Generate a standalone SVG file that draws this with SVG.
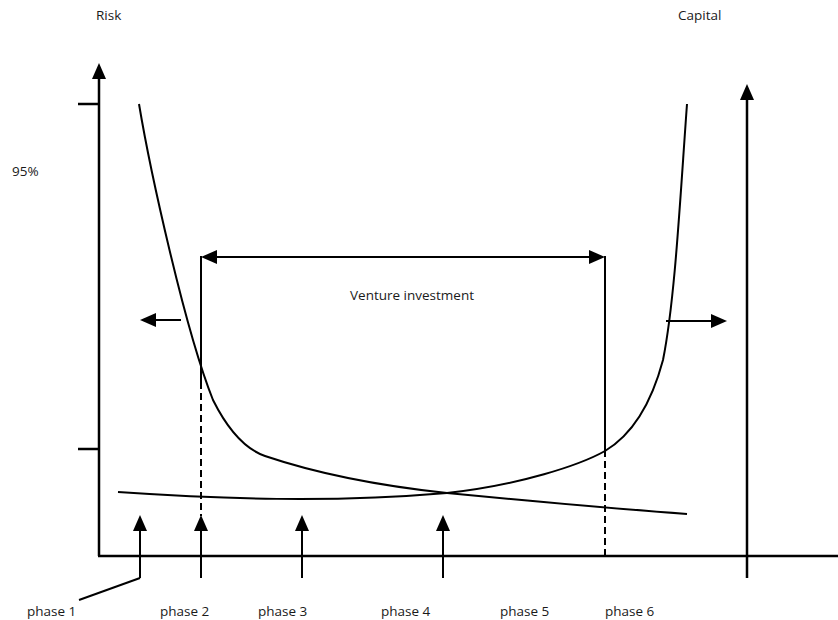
<svg xmlns="http://www.w3.org/2000/svg" width="838" height="620" viewBox="0 0 838 620">
<style>
text{font-family:"Open Sans","Liberation Sans",sans-serif;font-size:13.5px;fill:#1a1a1a}
.ax{stroke:#000;stroke-width:2.5;fill:none}
.ln{stroke:#000;stroke-width:2;fill:none}
.cv{stroke:#000;stroke-width:2;fill:none}
.ds{stroke:#000;stroke-width:2;fill:none;stroke-dasharray:7,4}
</style>
<defs>
<marker id="ah" markerUnits="userSpaceOnUse" viewBox="0 0 16 14" refX="12" refY="7" markerWidth="16" markerHeight="14" orient="auto">
<path d="M0,0 L16,7 L0,14 z" fill="#000"/>
</marker>
<marker id="ahs" markerUnits="userSpaceOnUse" viewBox="0 0 16 14" refX="12" refY="7" markerWidth="16" markerHeight="14" orient="auto-start-reverse">
<path d="M0,0 L16,7 L0,14 z" fill="#000"/>
</marker>
</defs>
<g id="labels">
<text x="96" y="20">Risk</text>
<text x="678" y="20">Capital</text>
<text x="12" y="176">95%</text>
<text x="350" y="300">Venture investment</text>
</g>
<g id="axes">
<path class="ax" d="M99,556 V67" marker-end="url(#ah)"/>
<path class="ax" d="M78,104 H99 M78,449 H99"/>
<path class="ax" d="M98,556 H838"/>
<path class="ax" d="M747,578 V88" marker-end="url(#ah)"/>
</g>
<g id="curves">
<path id="risk-curve" class="cv" d="M139,104 C150,170 185,330 213,400 C228,430 245,449 265,456 C330,478 400,488 447,493 C520,500 620,509 687,514"/>
<path id="capital-curve" class="cv" d="M118,492 C220,499 330,503 447,493 C520,485 580,465 605,451 C640,430 655,390 663,360 C675,300 680,200 687,104"/>
</g>
<g id="connectors">
<path class="ln" d="M201,256 V382"/>
<path class="ds" d="M201,382 V516"/>
<path class="ln" d="M605,256 V450"/>
<path class="ds" d="M605,450 V556"/>
<path class="ln" d="M205,257 H601" marker-start="url(#ahs)" marker-end="url(#ah)"/>
<path class="ln" d="M181,320 H144" marker-end="url(#ah)"/>
<path class="ln" d="M666,321 H723" marker-end="url(#ah)"/>
<path class="ln" d="M140,578 V519" marker-end="url(#ah)"/>
<path class="ln" d="M140,578 L79,600"/>
<path class="ln" d="M201,578 V519" marker-end="url(#ah)"/>
<path class="ln" d="M302,578 V519" marker-end="url(#ah)"/>
<path class="ln" d="M443,578 V519" marker-end="url(#ah)"/>
</g>
<g id="phases">
<text x="27" y="616">phase 1</text>
<text x="160" y="616">phase 2</text>
<text x="258" y="616">phase 3</text>
<text x="381" y="616">phase 4</text>
<text x="500" y="616">phase 5</text>
<text x="605" y="616">phase 6</text>
</g>
</svg>
